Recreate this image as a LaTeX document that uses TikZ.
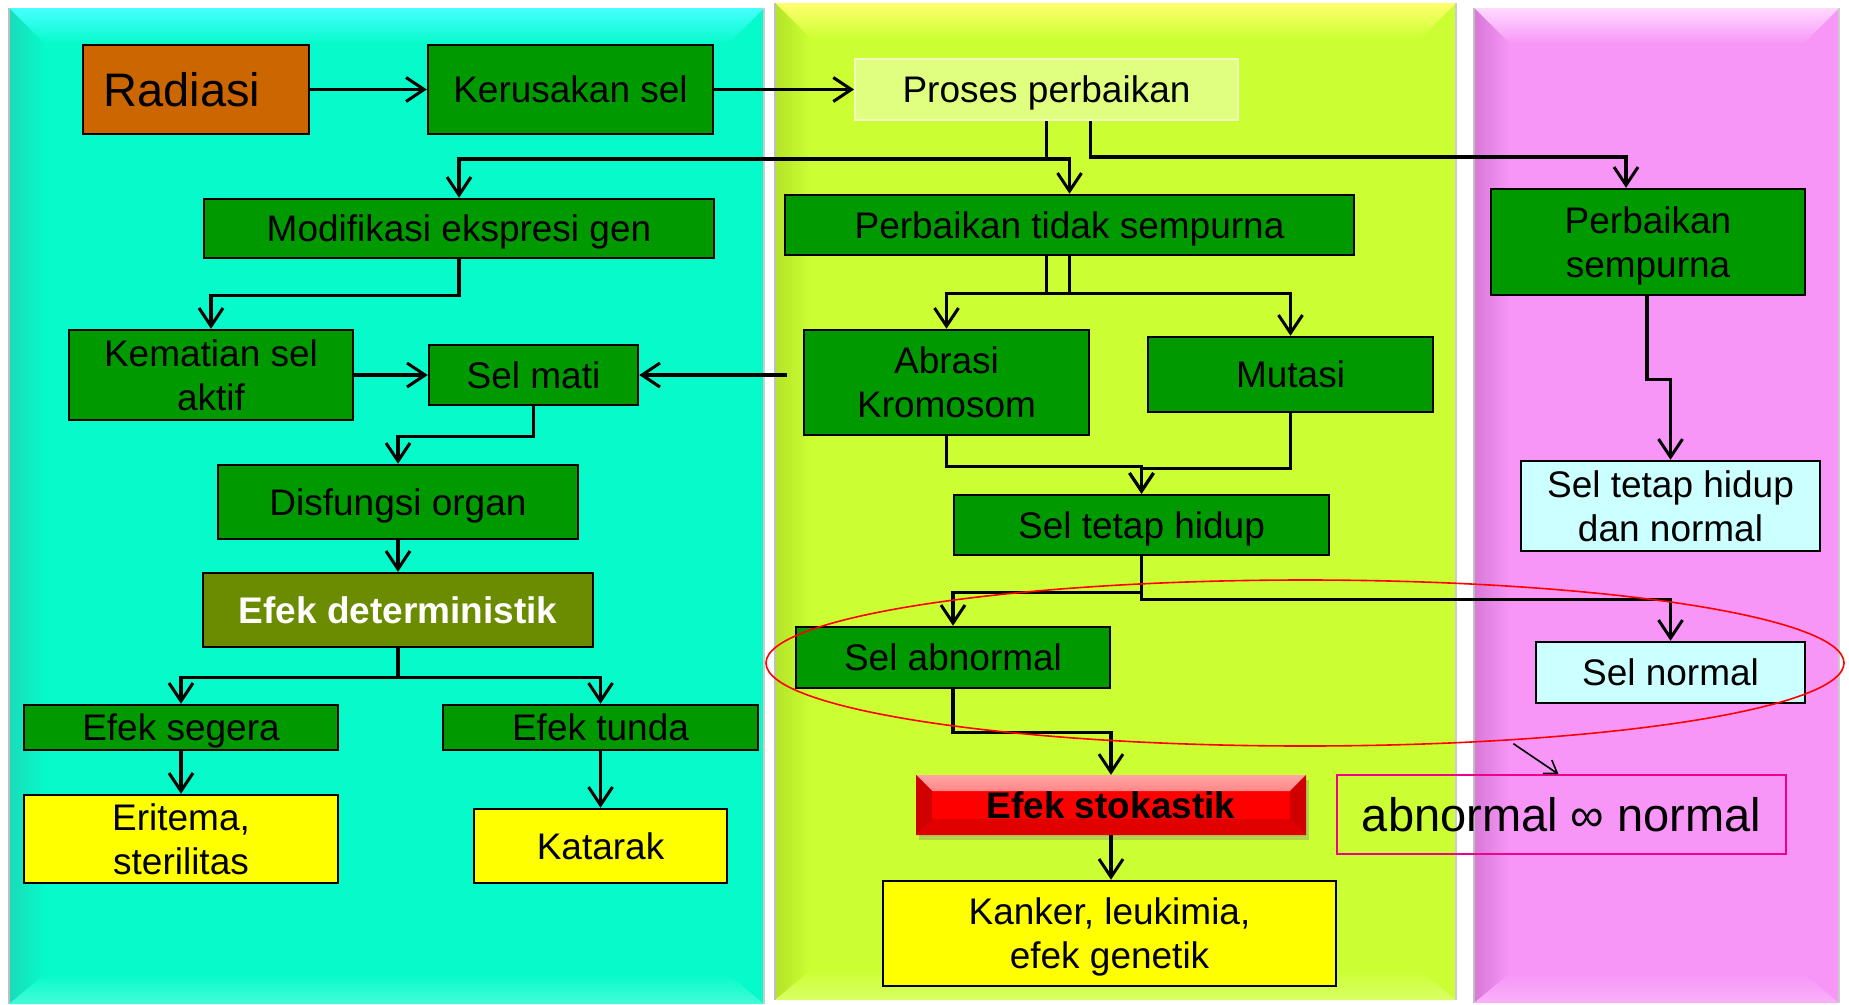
\documentclass[tikz,border=0pt]{standalone}
\usepackage{fontspec}
\setmainfont{Liberation Sans}
\usetikzlibrary{arrows.meta,shapes.geometric,shadows}

\definecolor{cyanpanel}{RGB}{6,250,202}
\definecolor{cyanlight}{RGB}{70,255,255}
\definecolor{cyandark}{RGB}{25,220,185}
\definecolor{limepanel}{RGB}{204,255,51}
\definecolor{limelight}{RGB}{255,255,110}
\definecolor{limedark}{RGB}{180,228,40}
\definecolor{pinkpanel}{RGB}{247,150,247}
\definecolor{pinklight}{RGB}{255,218,255}
\definecolor{pinkdark}{RGB}{215,120,215}
\definecolor{boxgreen}{RGB}{0,153,0}
\definecolor{boxorange}{RGB}{204,102,0}
\definecolor{boxolive}{RGB}{107,140,0}
\definecolor{boxpale}{RGB}{224,255,128}
\definecolor{palerim}{RGB}{240,255,190}
\definecolor{boxcyan}{RGB}{204,255,255}
\definecolor{boxyellow}{RGB}{255,255,0}
\definecolor{boxred}{RGB}{255,0,0}

% bevelled column: x1,y1,x2,y2,main,light,dark
\newcommand\bevelpanel[7]{%
  \fill[#5] (#1,#2) rectangle (#3,#4);
  \shade[top color=#6,bottom color=#5] (#1,#2) -- (#3,#2) -- ({#3-36},{#2+36}) -- ({#1+36},{#2+36}) -- cycle;
  \shade[left color=#7,right color=#5] (#1,#2) -- ({#1+36},{#2+36}) -- ({#1+36},{#4-30}) -- (#1,#4) -- cycle;
  \shade[top color=#5,bottom color=#5!75!white] (#1,#4) -- ({#1+36},{#4-30}) -- ({#3-36},{#4-30}) -- (#3,#4) -- cycle;
  \draw[black!25,line width=1.5pt] (#1,#2) -- (#1,#4);
  \draw[black!20,line width=1.5pt] (#3,#2) -- (#3,#4);
}

\begin{document}
\begin{tikzpicture}[x=1pt,y=-1pt,
  base/.style={draw=black, line width=2.5pt, inner sep=0pt, align=center,
    text depth=0pt, font=\fontsize{37}{44}\selectfont, text=black},
  gbox/.style={base, fill=boxgreen},
  ybox/.style={base, fill=boxyellow},
  cbox/.style={base, fill=boxcyan},
  arr/.style={draw=black, line width=3.5pt,
    -{Straight Barb[length=18pt, width=24pt, line width=3pt]}},
  thinarr/.style={draw=black, line width=1.6pt,
    -{Straight Barb[length=12pt, width=16pt, line width=1.6pt]}},
  redbevel/.style={draw=none, inner sep=0pt, fill=boxred, text depth=0pt,
    font=\fontsize{37}{44}\selectfont\bfseries, text=black,
    drop shadow={shadow xshift=3pt, shadow yshift=-5pt, opacity=0.35},
    path picture={
      \shade[top color=red!35!white, bottom color=red!80!white]
        (path picture bounding box.north west) -- (path picture bounding box.north east)
        -- ([shift={(-16,16)}]path picture bounding box.north east)
        -- ([shift={(16,16)}]path picture bounding box.north west) -- cycle;
      \fill[red!82!black]
        (path picture bounding box.north west) -- ([shift={(16,16)}]path picture bounding box.north west)
        -- ([shift={(16,-16)}]path picture bounding box.south west) -- (path picture bounding box.south west) -- cycle;
      \fill[red!82!black]
        (path picture bounding box.north east) -- ([shift={(-16,16)}]path picture bounding box.north east)
        -- ([shift={(-16,-16)}]path picture bounding box.south east) -- (path picture bounding box.south east) -- cycle;
      \fill[red!88!black]
        (path picture bounding box.south west) -- ([shift={(16,-16)}]path picture bounding box.south west)
        -- ([shift={(-16,-16)}]path picture bounding box.south east) -- (path picture bounding box.south east) -- cycle;
    }},
]
\useasboundingbox (0,0) rectangle (1849,1004);
\fill[white] (0,0) rectangle (1849,1004);

% the three coloured columns
\bevelpanel{9}{8}{764}{1004}{cyanpanel}{cyanlight}{cyandark}
\bevelpanel{775}{3}{1456}{1000}{limepanel}{limelight}{limedark}
\bevelpanel{1474}{8}{1839}{1003}{pinkpanel}{pinklight}{pinkdark}

% boxes
\node[base, fill=boxorange, minimum width=226pt, minimum height=89pt,
      font=\fontsize{47}{56}\selectfont] (rad) at (196,89.5) {Radiasi\hspace*{28pt}};
\node[gbox, minimum width=285pt, minimum height=89pt] (ker) at (570.5,89.5) {Kerusakan sel};
\node[base, draw=palerim, line width=2pt, fill=boxpale, minimum width=383pt, minimum height=61pt] (pro) at (1046.5,89.5) {Proses perbaikan};
\node[gbox, minimum width=510pt, minimum height=59pt] (mod) at (459,228.5) {Modifikasi ekspresi gen};
\node[gbox, minimum width=569pt, minimum height=60pt] (pts) at (1069.5,225) {Perbaikan tidak sempurna};
\node[gbox, minimum width=314pt, minimum height=106pt] (ps) at (1648,242) {Perbaikan\\sempurna};
\node[gbox, minimum width=284pt, minimum height=90pt] (kem) at (211,375) {Kematian sel\\aktif};
\node[gbox, minimum width=209pt, minimum height=60pt] (mati) at (533.5,375) {Sel mati};
\node[gbox, minimum width=285pt, minimum height=105pt] (abr) at (946.5,382.5) {Abrasi\\Kromosom};
\node[gbox, minimum width=285pt, minimum height=75pt] (mut) at (1290.5,374.5) {Mutasi};
\node[gbox, minimum width=360pt, minimum height=74pt] (dis) at (398,502) {Disfungsi organ};
\node[base, fill=boxolive, text=white, font=\fontsize{37}{44}\selectfont\bfseries,
      minimum width=390pt, minimum height=74pt] (det) at (398,610) {Efek deterministik};
\node[gbox, minimum width=375pt, minimum height=60pt] (sth) at (1141.5,525) {Sel tetap hidup};
\node[cbox, minimum width=299pt, minimum height=90pt] (sthn) at (1670.5,506) {Sel tetap hidup\\dan normal};
\node[gbox, minimum width=314pt, minimum height=61pt] (abn) at (953,657.5) {Sel abnormal};
\node[cbox, minimum width=269pt, minimum height=61pt] (nor) at (1670.5,672.5) {Sel normal};
\node[gbox, minimum width=314pt, minimum height=45pt] (seg) at (181,727.5) {Efek segera};
\node[gbox, minimum width=315pt, minimum height=45pt] (tun) at (600.5,727.5) {Efek tunda};
\node[redbevel, minimum width=390pt, minimum height=60pt] (sto) at (1111,805) {Efek stokastik};
\node[draw=magenta, line width=1.6pt, inner sep=0pt, minimum width=449pt, minimum height=79pt,
      text depth=0pt, font=\fontsize{47}{56}\selectfont] (inf) at (1561.5,814.5) {abnormal ∞ normal};
\node[ybox, minimum width=314pt, minimum height=88pt] (eri) at (181,839) {Eritema,\\sterilitas};
\node[ybox, minimum width=253pt, minimum height=74pt] (kat) at (600.5,846) {Katarak};
\node[ybox, minimum width=453pt, minimum height=105pt] (kan) at (1109.5,933.5) {Kanker, leukimia,\\efek genetik};

% connectors
\draw[arr] (rad.east) -- (ker.west);
\draw[arr] (ker.east) -- (pro.west);
\draw[arr] (pro.south) -- ++(0,38) -| (mod.north);
\draw[arr] (pro.south) -- ++(0,38) -| (pts.north);
\draw[arr] ([xshift=44pt]pro.south) -- ++(0,36) -| ([xshift=-22pt]ps.north);
\draw[arr] (pts.south) -- ++(0,37) -| (abr.north);
\draw[arr] ([xshift=-23pt]pts.south) -- ++(0,37) -| (mut.north);
\path (abr.west |- mati.east) ++(-16,0) coordinate (abrtail);
\draw[arr] (abrtail) -- (mati.east);
\draw[arr] (kem.east) -- (mati.west);
\draw[arr] (mod.south) -- ++(0,36) -| (kem.north);
\draw[arr] (mati.south) -- ++(0,30) -| (dis.north);
\draw[arr] (dis.south) -- (det.north);
\draw[arr] (det.south) -- ++(0,29) -| (seg.north);
\draw[arr] (det.south) -- ++(0,29) -| (tun.north);
\draw[arr] (seg.south) -- (eri.north);
\draw[arr] (tun.south) -- (kat.north);
\draw[arr] (abr.south) -- ++(0,30) -| (sth.north);
\draw[arr] (mut.south) -- ++(0,55) -| (sth.north);
\draw[arr] (sth.south) -- ++(0,36) -| (abn.north);
\draw[arr] (sth.south) -- ++(0,43) -| (nor.north);
\draw[arr] (abn.south) -- ++(0,43) -| (sto.north);
\draw[arr] (sto.south) -- (sto.south |- kan.north);
\draw[arr] ([xshift=-1pt]ps.south) -- ++(0,83) -| (sthn.north);

% red ring around the two outcomes
\node[draw=red, line width=1.6pt, ellipse, inner sep=0pt,
      minimum width=1078pt, minimum height=166pt] (ring) at (1305,663) {};
\draw[thinarr] ([shift={(6,3)}]ring.-21) -- ([xshift=-3pt]inf.north);
\end{tikzpicture}
\end{document}
